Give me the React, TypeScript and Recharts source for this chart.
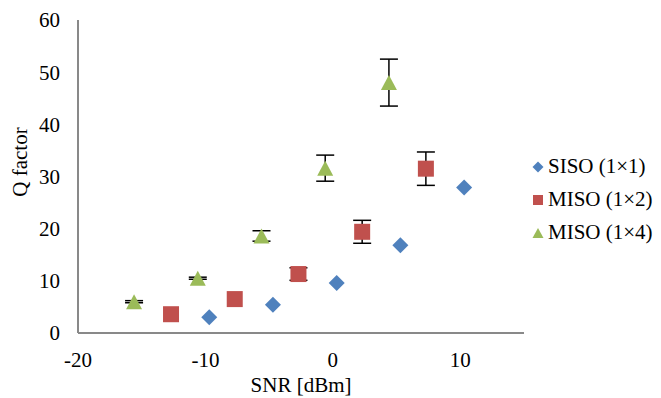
import React from 'react';
import { ScatterChart, Scatter, XAxis, YAxis, ErrorBar, Legend } from 'recharts';

const sisoX = [-9.7, -4.7, 0.3, 5.3, 10.3];
const sisoY = [3.0, 5.4, 9.6, 16.8, 27.9];
const miso2X = [-12.7, -7.7, -2.7, 2.3, 7.3];
const miso2Y = [3.6, 6.5, 11.3, 19.4, 31.5];
const miso2Err = [0, 0, 1.2, 2.2, 3.2];
const miso4X = [-15.6, -10.6, -5.6, -0.6, 4.4];
const miso4Y = [6.0, 10.5, 18.6, 31.6, 48.0];
const miso4Err = [0.2, 0.2, 1.0, 2.5, 4.5];
const xTicks = [-20, -10, 0, 10];
const yTicks = [0, 10, 20, 30, 40, 50, 60];
const seriesNames = ['SISO (1×1)', 'MISO (1×2)', 'MISO (1×4)'];

const FONT = 'Liberation Serif, Tinos, Times New Roman, DejaVu Serif, Noto Serif, serif';
const COLORS = ['#4F81BD', '#C0504D', '#9BBB59'];
const AXIS = '#898989';

const sisoData = sisoX.map((x, i) => ({ x, y: sisoY[i] }));
const miso2Data = miso2X.map((x, i) => ({ x, y: miso2Y[i], err: miso2Err[i] }));
const miso4Data = miso4X.map((x, i) => ({ x, y: miso4Y[i], err: miso4Err[i] }));

const Diamond = (props: any) => {
  const { cx, cy } = props;
  const h = 8;
  return <path d={`M${cx},${cy - h}L${cx + h},${cy}L${cx},${cy + h}L${cx - h},${cy}Z`} fill={COLORS[0]} />;
};
const Square = (props: any) => {
  const { cx, cy } = props;
  const h = 8;
  return <rect x={cx - h} y={cy - h} width={2 * h} height={2 * h} fill={COLORS[1]} />;
};
const Triangle = (props: any) => {
  const { cx, cy } = props;
  return <path d={`M${cx},${cy - 7.5}L${cx + 8},${cy + 7.5}L${cx - 8},${cy + 7.5}Z`} fill={COLORS[2]} />;
};
const Nothing = () => <g />;

const legendMarker = (i: number) => {
  const c = 6;
  if (i === 0) return <path d={`M${c},${c - 5.5}L${c + 5.5},${c}L${c},${c + 5.5}L${c - 5.5},${c}Z`} fill={COLORS[0]} />;
  if (i === 1) return <rect x={1} y={1} width={10} height={10} fill={COLORS[1]} />;
  return <path d={`M${c},${c - 5}L${c + 5.5},${c + 5}L${c - 5.5},${c + 5}Z`} fill={COLORS[2]} />;
};

const LegendContent = () => (
  <div style={{ fontFamily: FONT, fontSize: 21, color: '#000' }}>
    {seriesNames.map((n, i) => (
      <div key={n} style={{ display: 'flex', alignItems: 'center', height: 33, whiteSpace: 'nowrap' }}>
        <svg width={12} height={12} style={{ marginRight: 4 }}>{legendMarker(i)}</svg>
        <span>{n}</span>
      </div>
    ))}
  </div>
);

export default function App() {
  return (
    <div style={{ position: 'absolute', left: 0, top: 0, width: 661, height: 398, background: '#fff' }}>
      <ScatterChart width={661} height={398} margin={{ top: 20, right: 137, bottom: 35, left: 38 }}>
        <XAxis
          type="number"
          dataKey="x"
          domain={[-20, 15]}
          ticks={xTicks}
          interval={0}
          allowDataOverflow
          tickLine={false}
          tickSize={6}
          tickMargin={13}
          height={30}
          axisLine={{ stroke: AXIS, strokeWidth: 2 }}
          tick={{ fill: '#000', fontSize: 21, fontFamily: FONT }}
          label={(p: any) => (
            <text x={301} y={392} textAnchor="middle" fontFamily={FONT} fontSize={21} fill="#000">SNR [dBm]</text>
          )}
        />
        <YAxis
          type="number"
          dataKey="y"
          domain={[0, 60]}
          ticks={yTicks}
          interval={0}
          tickLine={false}
          tickSize={6}
          tickMargin={12}
          width={40}
          axisLine={{ stroke: AXIS, strokeWidth: 2 }}
          tick={{ fill: '#000', fontSize: 21, fontFamily: FONT }}
          label={(p: any) => (
            <text x={27} y={162} transform="rotate(-90, 27, 162)" textAnchor="middle" fontFamily={FONT} fontSize={21} fill="#000">Q factor</text>
          )}
        />
        <Legend
          layout="vertical"
          align="center"
          verticalAlign="middle"
          wrapperStyle={{ left: 532, top: 150, width: 129 }}
          content={LegendContent}
        />
        <Scatter name="err2" legendType="none" data={miso2Data} fill="none" shape={Nothing} isAnimationActive={false}>
          <ErrorBar dataKey="err" direction="y" width={9} stroke="#000" strokeWidth={1.5} />
        </Scatter>
        <Scatter name="err4" legendType="none" data={miso4Data} fill="none" shape={Nothing} isAnimationActive={false}>
          <ErrorBar dataKey="err" direction="y" width={9} stroke="#000" strokeWidth={1.5} />
        </Scatter>
        <Scatter name={seriesNames[0]} data={sisoData} fill={COLORS[0]} shape={Diamond} isAnimationActive={false} />
        <Scatter name={seriesNames[1]} data={miso2Data} fill={COLORS[1]} shape={Square} isAnimationActive={false} />
        <Scatter name={seriesNames[2]} data={miso4Data} fill={COLORS[2]} shape={Triangle} isAnimationActive={false} />
      </ScatterChart>
    </div>
  );
}
